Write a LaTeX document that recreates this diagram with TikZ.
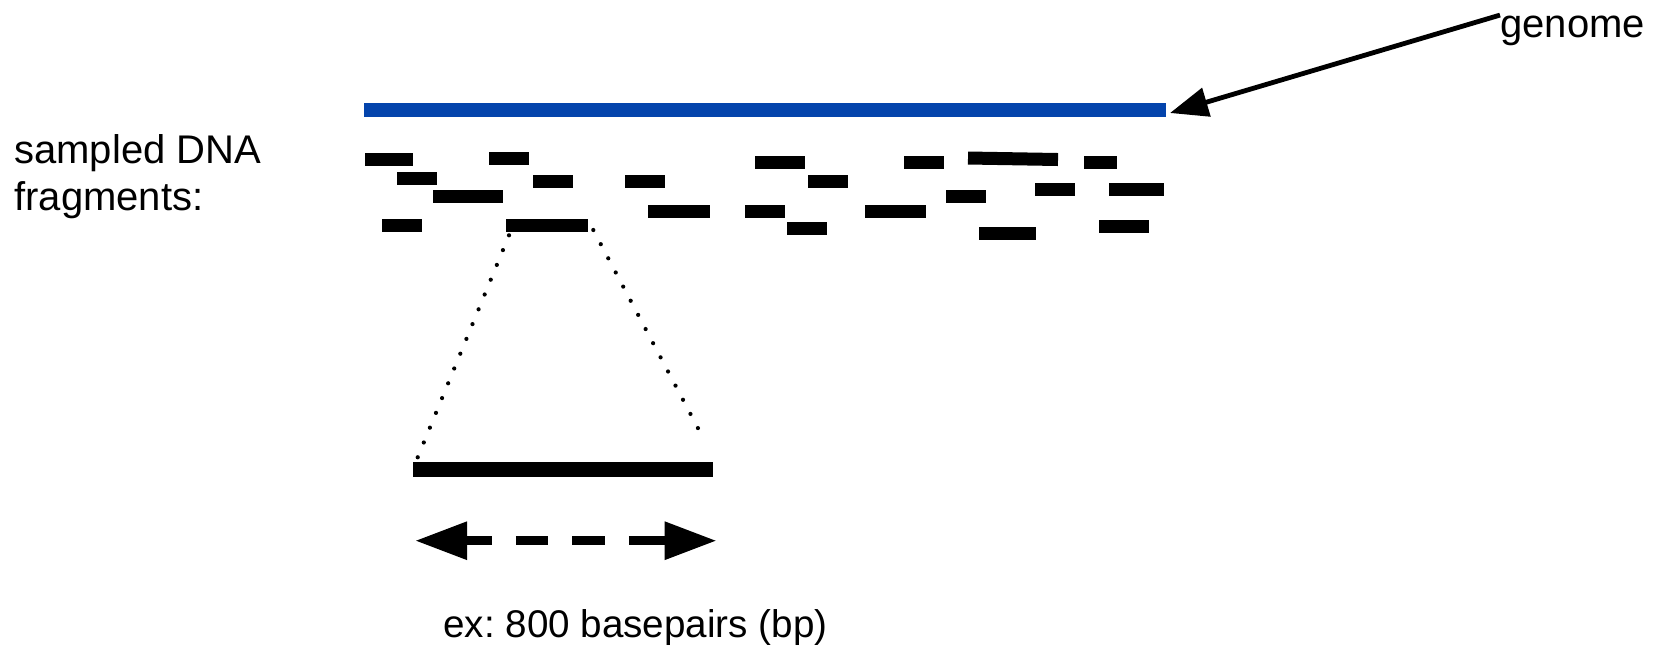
\documentclass[tikz,border=0pt]{standalone}
\usepackage{fontspec}
\setmainfont{Liberation Sans}
\usetikzlibrary{arrows.meta}
\definecolor{genomeblue}{RGB}{4,68,172}

\begin{document}
\begin{tikzpicture}[x=0.5pt, y=-0.5pt,
    label text/.style = {inner sep=0pt, font=\fontsize{20pt}{23.5pt}\selectfont\frenchspacing},
    genome line/.style = {genomeblue, line width=7pt},
    fragment/.style = {line width=6.5pt},
    read/.style = {line width=7.8pt},
    zoom line/.style = {line width=2.1pt, line cap=round, dash pattern=on 0pt off 8pt},
    pointer/.style = {line width=2.4pt, -{Triangle[length=19pt, width=14.5pt]}},
    span/.style = {line width=4.5pt, {Triangle[length=26pt, width=18pt]}-{Triangle[length=26pt, width=18pt]},
                   dash pattern=on 13.5pt off 12pt on 16.3pt off 12pt on 16.3pt off 12pt on 20pt off 2pt}]
  \useasboundingbox (0,0) rectangle (1663,655);

  % genome
  \draw[genome line] (364,109.6) coordinate (g0) -- (1166,109.6) coordinate (g1);
  \node[label text, anchor=base west] (genome) at (1500,37) {genome};
  \draw[pointer] (genome.north west) -- ([shift={(4,3.4)}]g1);

  % sampled fragments
  \node[label text, anchor=base west, align=left] (sampled) at (14,210) {sampled DNA\\fragments:};
  \draw[fragment] (365,159.2) -- (413,159.2);
  \draw[fragment] (489,158.2) -- (529,158.2);
  \draw[fragment] (397,178.8) -- (437,178.8);
  \draw[fragment] (533,181.7) -- (573,181.7);
  \draw[fragment] (625,181.8) -- (665,181.8);
  \draw[fragment] (433,196.5) -- (503,196.5);
  \draw[fragment] (648,211) -- (710,211);
  \draw[fragment] (382,225.8) -- (422,225.8);
  \draw[fragment] (506,225.8) -- (588,225.8);
  \draw[fragment] (755,162.7) -- (805,162.7);
  \draw[fragment] (904,162.7) -- (944,162.7);
  \draw[fragment] (968,158) -- (1058,159.5);
  \draw[fragment] (1084,162.7) -- (1117,162.7);
  \draw[fragment] (808,181.7) -- (848,181.7);
  \draw[fragment] (1035,189) -- (1075,189);
  \draw[fragment] (1109,189) -- (1164,189);
  \draw[fragment] (946,196.5) -- (986,196.5);
  \draw[fragment] (745,211) -- (785,211);
  \draw[fragment] (865,211) -- (926,211);
  \draw[fragment] (787,228.7) -- (827,228.7);
  \draw[fragment] (979,233.3) -- (1036,233.3);
  \draw[fragment] (1099,226) -- (1149,226);

  % zoomed read
  \coordinate (fragL) at (509,235.3);
  \coordinate (fragR) at (593.3,230);
  \draw[read] (413.3,469.5) coordinate (readL) -- (713.3,469.5) coordinate (readR);
  \draw[zoom line] (fragL) -- ([shift={(4.4,-12.2)}]readL);
  \draw[zoom line] (fragR) -- ([shift={(-8,-27.5)}]readR);

  % length
  \coordinate (spanL) at (415,540.7);
  \coordinate (spanR) at (716.7,540.7);
  \draw[span] (spanL) -- (spanR);
  \node[label text, font=\fontsize{19.3pt}{23pt}\selectfont\frenchspacing, anchor=base west] (length) at (443,637) {ex: 800 basepairs (bp)};
\end{tikzpicture}
\end{document}
